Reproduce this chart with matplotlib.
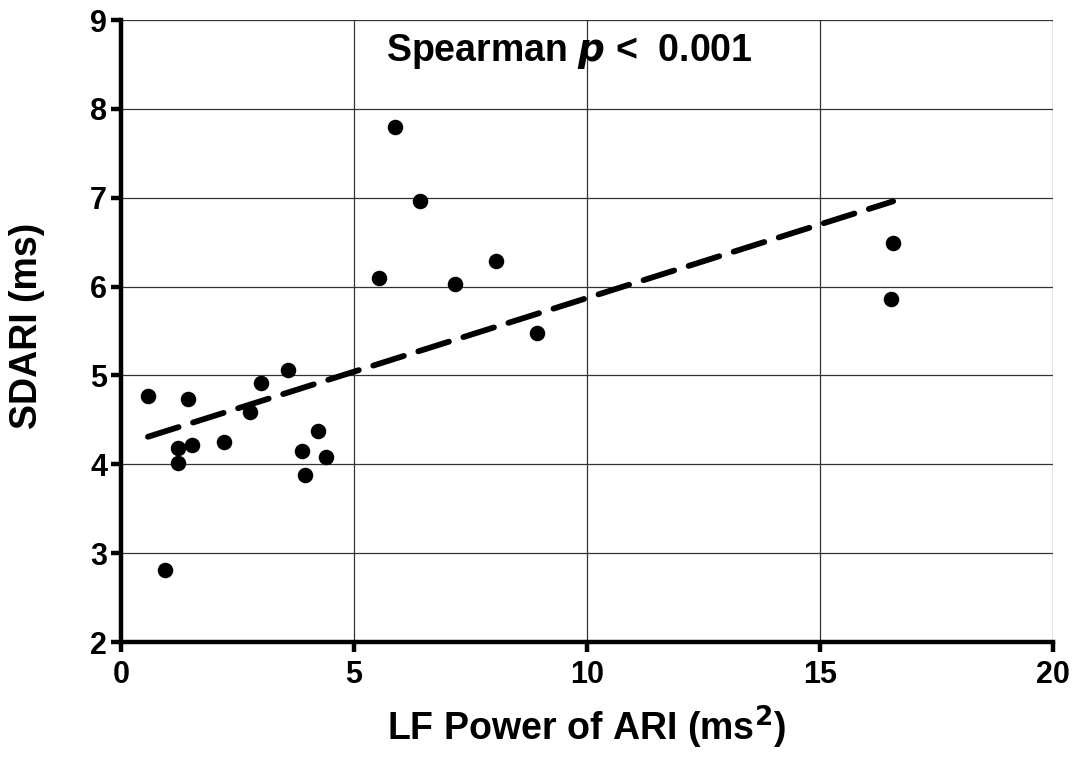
import numpy as np
import matplotlib
matplotlib.use("Agg")
import matplotlib.pyplot as plt

plt.rcParams['font.family'] = ['Liberation Sans', 'DejaVu Sans']
plt.rcParams['font.weight'] = 'bold'

# LF power of ARI (ms^2) vs SDARI (ms)
lf_power = [0.58, 0.94, 1.22, 1.22, 1.44, 1.52, 2.21, 2.77, 3.00, 3.58, 3.88,
            3.94, 4.22, 4.39, 5.53, 5.89, 6.41, 7.16, 8.04, 8.92, 16.53, 16.57]
sdari = [4.77, 2.81, 4.18, 4.01, 4.73, 4.22, 4.25, 4.59, 4.91, 5.06, 4.15,
         3.88, 4.37, 4.08, 6.10, 7.80, 6.96, 6.03, 6.29, 5.48, 5.86, 6.49]

# regression line end points
fit_x = [0.58, 16.57]
fit_y = [4.31, 6.96]

x_ticks = [0, 5, 10, 15, 20]
y_ticks = [2, 3, 4, 5, 6, 7, 8, 9]

fig = plt.figure(figsize=(10.79, 7.58), dpi=100)
ax = fig.add_axes([0.1121, 0.153, 0.8638, 0.8206])

ax.grid(True, color='#333333', linewidth=0.9, zorder=0)
ax.set_axisbelow(True)

ax.scatter(lf_power, sdari, s=125, color='black', zorder=3, linewidths=0)
ax.plot(fit_x, fit_y, color='black', linewidth=4.2, dashes=(5.5, 2.6),
        dash_capstyle='round', zorder=3)

ax.set_xlim(0, 20)
ax.set_ylim(2, 9)
ax.set_xticks(x_ticks)
ax.set_yticks(y_ticks)

for side in ['top', 'right']:
    ax.spines[side].set_visible(False)
for side in ['left', 'bottom']:
    ax.spines[side].set_linewidth(3.2)

ax.tick_params(axis='both', width=3.2, length=7, direction='out',
               labelsize=22, pad=3)
ax.tick_params(axis='x', pad=6)
for lbl in ax.get_xticklabels() + ax.get_yticklabels():
    lbl.set_fontweight('bold')

ax.set_xlabel('LF Power of ARI (ms$^{\\mathbf{2}}$)', fontsize=27,
              fontweight='bold', labelpad=10)
ax.set_ylabel('SDARI (ms)', fontsize=27, fontweight='bold')
ax.yaxis.set_label_coords(-0.081, 0.508)

ax.text(0.481, 0.949, 'Spearman $\\boldsymbol{p}$ <  0.001', transform=ax.transAxes,
      ha='center', va='center', fontsize=27, fontweight='bold')

fig.savefig('out.png', dpi=100)
